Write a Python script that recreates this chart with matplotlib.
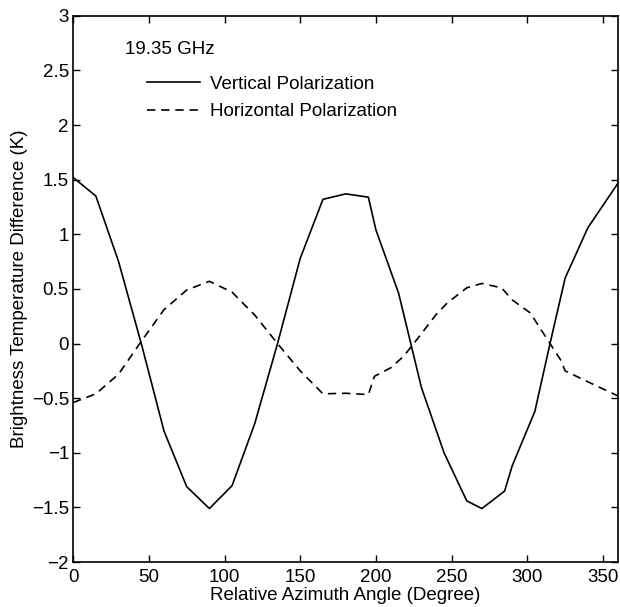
import matplotlib
matplotlib.use("Agg")
import matplotlib.pyplot as plt

plt.rcParams['font.family'] = ['Liberation Sans', 'DejaVu Sans']

# Vertical polarization
v_angle = [0, 15, 30, 45, 60, 75, 90, 105, 120, 135, 150, 165, 180, 195, 200,
           215, 230, 245, 260, 270, 285, 290, 305, 315, 325, 340, 360]
v_tb = [1.52, 1.35, 0.75, 0.0, -0.80, -1.31, -1.51, -1.30, -0.73, 0.0, 0.78,
        1.32, 1.37, 1.34, 1.04, 0.46, -0.40, -1.00, -1.44, -1.51, -1.35, -1.12,
        -0.62, 0.0, 0.60, 1.06, 1.47]

# Horizontal polarization
h_angle = [0, 15, 30, 45, 60, 75, 90, 105, 120, 135, 150, 165, 180, 195, 199,
           210, 218, 225, 240, 247, 260, 270, 283, 290, 302, 308, 315, 322, 325,
           340, 360]
h_tb = [-0.54, -0.46, -0.28, 0.02, 0.31, 0.49, 0.57, 0.47, 0.26, 0.0, -0.25,
        -0.46, -0.455, -0.467, -0.30, -0.22, -0.12, 0.0, 0.27, 0.37, 0.51, 0.55,
        0.51, 0.40, 0.28, 0.15, 0.0, -0.15, -0.25, -0.35, -0.48]

x_ticks = [0, 50, 100, 150, 200, 250, 300, 350]
y_ticks = [-2, -1.5, -1, -0.5, 0, 0.5, 1, 1.5, 2, 2.5, 3]
y_ticklabels = ['\u22122', '\u22121.5', '\u22121', '\u22120.5', '0', '0.5', '1',
                '1.5', '2', '2.5', '3']

FS = 13.5

fig = plt.figure(figsize=(6.2, 6.07), dpi=100)
ax = fig.add_axes([0.118, 0.074, 0.879, 0.900])

ax.plot(v_angle, v_tb, color='black', lw=1.2, linestyle='-',
        label='Vertical Polarization')
ax.plot(h_angle, h_tb, color='black', lw=1.2, linestyle=(0, (5, 3.5)),
        label='Horizontal Polarization')

ax.set_xlim(0, 360)
ax.set_ylim(-2, 3)
ax.set_xticks(x_ticks)
ax.set_yticks(y_ticks)
ax.set_yticklabels(y_ticklabels)
ax.tick_params(direction='in', length=5, width=1, top=True, right=True,
               labelsize=FS)
ax.tick_params(axis='x', pad=5)
ax.tick_params(axis='y', pad=3)
for s in ax.spines.values():
    s.set_linewidth(1.2)

ax.set_xlabel('Relative Azimuth Angle (Degree)', fontsize=FS, labelpad=0.5)
ax.set_ylabel('Brightness Temperature Difference (K)', fontsize=FS, labelpad=3)

ax.text(34, 2.69, '19.35 GHz', fontsize=FS, va='center', ha='left')

leg = ax.legend(loc='upper left', bbox_to_anchor=(0.136, 0.89), frameon=False,
                fontsize=FS, handlelength=2.8, handletextpad=0.55,
                labelspacing=0.55, borderaxespad=0, borderpad=0)

fig.savefig('out.png', dpi=100)
